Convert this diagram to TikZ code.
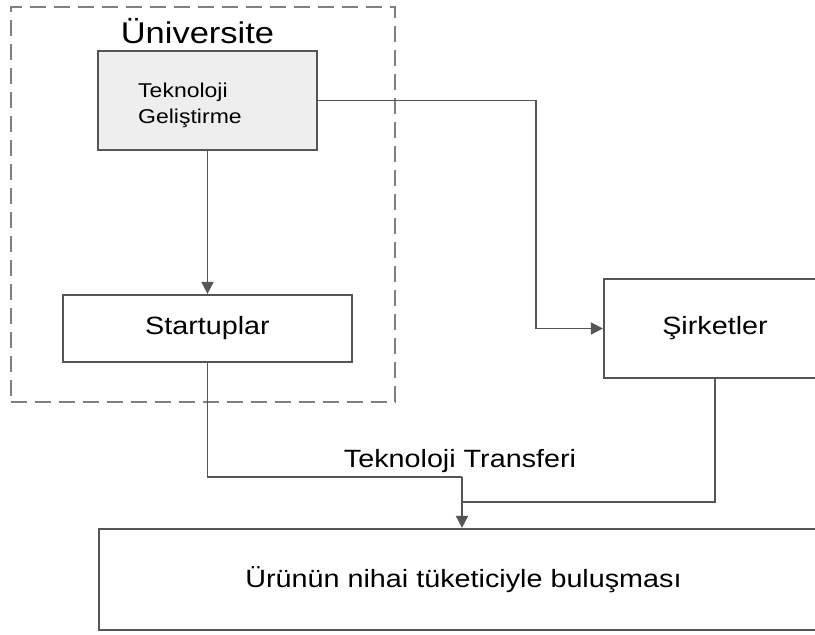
\documentclass[tikz,border=0pt]{standalone}
\usepackage{fontspec}
\setmainfont{Liberation Sans}[FakeStretch=1.15]
\usetikzlibrary{arrows.meta}

\definecolor{edgegray}{HTML}{555555}
\definecolor{fillgray}{HTML}{EEEEEE}
\definecolor{dashgray}{HTML}{808080}

\begin{document}
\begin{tikzpicture}[x=1pt, y=-1pt,
  every node/.style={font=\fontsize{25}{30}\selectfont, text=black},
  block/.style={draw=edgegray, line width=2.2pt, rectangle, inner sep=0pt},
  link/.style={draw=edgegray, line width=1.7pt},
  >={Triangle[length=12pt, width=12pt]}]
\clip (0,0) rectangle (815,635);
% university frame
\node (uni) [draw=dashgray, line width=1.6pt, dash pattern=on 16pt off 8pt, minimum width=384, minimum height=395] at (203,204.5) {};
\node (unititle) [font=\fontsize{30}{36}\selectfont, anchor=base] at (197.5,43) {Üniversite};
% boxes
\node (tekno) [block, fill=fillgray, minimum width=219, minimum height=99] at (207.5,100.5) {};
\node (teknotxt) [anchor=west, inner sep=0pt, align=left, font=\fontsize{20}{26}\selectfont] at (138,105.8) {Teknoloji\\Geliştirme};
\node (start) [block, minimum width=289, minimum height=67] at (207.5,328.5) {Startuplar};
\node (sirket) [block, minimum width=222, minimum height=99] at (715,328.5) {Şirketler};
\node (urun) [block, minimum width=729, minimum height=101] at (463.5,579.5) {Ürünün nihai tüketiciyle buluşması};
% bends
\coordinate (turn) at (536,100.5);
\coordinate (merge) at (462,477);
\coordinate (join) at (715,502);
% links
\draw[link, ->] (tekno) -- (start);
\draw[link, ->] (tekno.east) -- (turn) |- (sirket.west);
\draw[link] (start.south) |- (merge);
\draw[link, ->] (merge) -- (merge |- urun.north);
\draw[link] (sirket.south) -- (join) -- (merge |- join);
\node (transfer) [anchor=base] at (460,467) {Teknoloji Transferi};
\end{tikzpicture}
\end{document}
